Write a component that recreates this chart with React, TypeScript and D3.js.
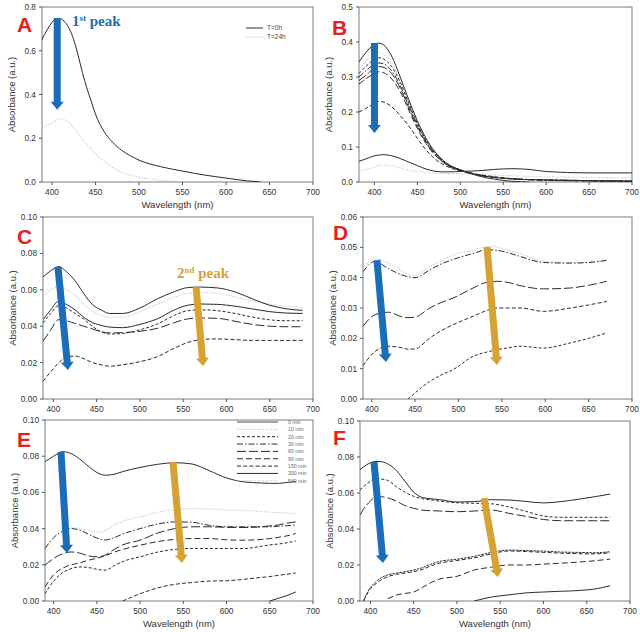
import React from "react";
import * as d3 from "d3";

// ---------- shared ----------
const xTicks = [400, 450, 500, 550, 600, 650, 700];
const legendLabels = ["0 min", "10 min", "20 min", "30 min", "60 min", "90 min", "150 min", "300 min", "540 min"];
const legendStyles = ["solid", "dotted", "short", "dashdot", "long", "medium", "dash", "solid", "dotted"];

// ---------- Panel A ----------
const aWl = [388, 395, 400, 405, 410, 415, 420, 425, 430, 435, 440, 445, 450, 460, 470, 480, 490, 500, 525, 550, 575, 600, 625, 640];
const aT0h = [0.648, 0.7, 0.73, 0.747, 0.746, 0.73, 0.7, 0.65, 0.58, 0.5, 0.43, 0.37, 0.31, 0.23, 0.18, 0.145, 0.12, 0.1, 0.07, 0.05, 0.032, 0.018, 0.005, 0];
const aT24h = [0.245, 0.26, 0.27, 0.282, 0.29, 0.285, 0.27, 0.248, 0.22, 0.195, 0.17, 0.15, 0.13, 0.095, 0.065, 0.045, 0.032, 0.022, 0.008, 0.0, null, null, null, null];

// ---------- Panel B ----------
const bWl = [382, 390, 400, 405, 410, 420, 430, 440, 450, 460, 470, 480, 490, 500, 520, 540, 560, 580, 600, 650, 700];
const b0 = [0.343, 0.37, 0.393, 0.397, 0.393, 0.36, 0.3, 0.235, 0.175, 0.125, 0.088, 0.062, 0.045, 0.035, 0.018, 0.008, 0.002, 0, null, null, null];
const b10 = [0.32, 0.345, 0.365, 0.37, 0.366, 0.34, 0.29, 0.228, 0.17, 0.122, 0.086, 0.06, 0.044, 0.035, 0.02, 0.012, 0.008, 0.006, 0.005, 0.004, 0.003];
const b20 = [0.31, 0.33, 0.35, 0.355, 0.352, 0.33, 0.285, 0.225, 0.168, 0.12, 0.085, 0.06, 0.044, 0.035, 0.021, 0.013, 0.009, 0.007, 0.006, 0.004, 0.003];
const b30 = [0.3, 0.318, 0.336, 0.34, 0.338, 0.318, 0.275, 0.218, 0.163, 0.117, 0.083, 0.059, 0.043, 0.034, 0.021, 0.013, 0.009, 0.007, 0.006, 0.004, 0.003];
const b60 = [0.29, 0.305, 0.325, 0.33, 0.328, 0.31, 0.268, 0.212, 0.158, 0.113, 0.08, 0.057, 0.042, 0.033, 0.021, 0.013, 0.009, 0.007, 0.006, 0.004, 0.002];
const b90 = [0.28, 0.295, 0.31, 0.315, 0.313, 0.295, 0.258, 0.205, 0.153, 0.11, 0.078, 0.056, 0.041, 0.032, 0.02, 0.013, 0.009, 0.006, 0.005, 0.003, 0.002];
const b150 = [0.2, 0.21, 0.225, 0.23, 0.229, 0.215, 0.19, 0.16, 0.125, 0.092, 0.067, 0.05, 0.039, 0.032, 0.022, 0.015, 0.01, 0.007, 0.005, 0.003, 0.002];
const b300 = [0.059, 0.066, 0.075, 0.077, 0.078, 0.075, 0.067, 0.057, 0.047, 0.037, 0.031, 0.029, 0.029, 0.03, 0.032, 0.036, 0.038, 0.036, 0.03, 0.026, 0.026];
const b540 = [0.029, 0.035, 0.043, 0.047, 0.048, 0.046, 0.04, 0.034, 0.03, 0.027, 0.025, 0.024, 0.024, 0.024, 0.022, 0.02, 0.018, 0.016, 0.015, 0.013, 0.012];

// ---------- Panel C ----------
const cWl = [388, 397, 406, 415, 425, 435, 445, 455, 465, 480, 500, 520, 540, 555, 570, 590, 610, 630, 650, 670, 688];
const c1 = [0.067, 0.0705, 0.0728, 0.07, 0.065, 0.058, 0.052, 0.049, 0.047, 0.047, 0.05, 0.055, 0.059, 0.0612, 0.0615, 0.061, 0.0588, 0.055, 0.0515, 0.0495, 0.0487];
const c2 = [0.056, 0.06, 0.062, 0.06, 0.057, 0.052, 0.048, 0.046, 0.045, 0.045, 0.048, 0.052, 0.056, 0.058, 0.0585, 0.058, 0.056, 0.054, 0.052, 0.051, 0.05];
const c3 = [0.0436, 0.049, 0.0537, 0.052, 0.049, 0.045, 0.042, 0.0405, 0.0395, 0.0392, 0.041, 0.044, 0.049, 0.0515, 0.0522, 0.052, 0.051, 0.0495, 0.048, 0.0472, 0.047];
const c4 = [0.0418, 0.047, 0.0513, 0.05, 0.047, 0.044, 0.04, 0.037, 0.0357, 0.036, 0.038, 0.0412, 0.046, 0.0485, 0.049, 0.0485, 0.047, 0.045, 0.0435, 0.043, 0.043];
const c5 = [0.0317, 0.038, 0.0436, 0.043, 0.0415, 0.04, 0.0385, 0.037, 0.0363, 0.0365, 0.0372, 0.0388, 0.042, 0.044, 0.0445, 0.0443, 0.0427, 0.041, 0.04, 0.0397, 0.0397];
const c6 = [0.0097, 0.015, 0.0198, 0.0232, 0.0236, 0.0222, 0.02, 0.0188, 0.018, 0.0188, 0.0205, 0.0232, 0.028, 0.031, 0.0326, 0.033, 0.0326, 0.0322, 0.0322, 0.0322, 0.0322];

// ---------- Panel D ----------
const dWl = [390, 404, 419, 436, 442, 450, 467, 480, 494, 517, 533, 545, 556, 571, 598, 629, 650, 671];
const d1 = [0.0432, 0.0462, 0.0448, 0.042, 0.041, 0.0407, 0.0437, 0.0455, 0.0476, 0.049, 0.0503, 0.05, 0.0492, 0.048, 0.0454, 0.045, 0.0452, 0.046];
const d2 = [0.042, 0.0454, 0.043, 0.0408, 0.0403, 0.04, 0.0426, 0.0445, 0.046, 0.048, 0.0492, 0.049, 0.0483, 0.047, 0.045, 0.0448, 0.045, 0.0457];
const d3v = [0.024, 0.0278, 0.0286, 0.027, 0.0268, 0.027, 0.03, 0.0318, 0.0333, 0.0366, 0.0385, 0.0388, 0.0385, 0.0374, 0.0363, 0.0366, 0.0375, 0.0388];
const d4 = [0.011, 0.0157, 0.0174, 0.0168, 0.0164, 0.0165, 0.0201, 0.0225, 0.0245, 0.0273, 0.0292, 0.03, 0.03, 0.03, 0.0289, 0.03, 0.031, 0.0322];
const d5 = [null, null, null, null, 0, 0.002, 0.0058, 0.0079, 0.0097, 0.0141, 0.0155, 0.0163, 0.0168, 0.0174, 0.0168, 0.0185, 0.02, 0.0218];

// ---------- Panel E ----------
const eWl = [390, 400, 410, 420, 430, 440, 450, 460, 470, 480, 500, 520, 540, 560, 580, 600, 620, 640, 650, 660, 670, 680];
const e0 = [0.077, 0.08, 0.0825, 0.0815, 0.0785, 0.0745, 0.071, 0.0695, 0.07, 0.0715, 0.0738, 0.0755, 0.0764, 0.0757, 0.072, 0.068, 0.0658, 0.0652, 0.065, 0.065, 0.0655, 0.066];
const e10 = [null, null, null, 0.041, 0.04, 0.039, 0.038, 0.039, 0.042, 0.044, 0.0465, 0.049, 0.0505, 0.051, 0.0508, 0.0503, 0.05, 0.0495, 0.049, 0.0488, 0.0485, 0.0483];
const e20 = [0.029, 0.035, 0.0385, 0.04, 0.0392, 0.037, 0.0348, 0.0337, 0.035, 0.037, 0.04, 0.0425, 0.0437, 0.0435, 0.0418, 0.041, 0.041, 0.041, 0.041, 0.0413, 0.0416, 0.042];
const e30 = [0.0197, 0.0235, 0.026, 0.0271, 0.0265, 0.025, 0.0244, 0.0255, 0.0285, 0.031, 0.0336, 0.0375, 0.04, 0.041, 0.041, 0.0407, 0.0406, 0.041, 0.0415, 0.042, 0.043, 0.0437];
const e60 = [0.0077, 0.0145, 0.018, 0.02, 0.021, 0.0225, 0.0236, 0.025, 0.027, 0.0285, 0.0308, 0.0328, 0.034, 0.0345, 0.0345, 0.0338, 0.0336, 0.034, 0.0345, 0.0352, 0.036, 0.0373];
const e90 = [0.004, 0.011, 0.0155, 0.0178, 0.0188, 0.0185, 0.0175, 0.017, 0.0195, 0.0218, 0.0244, 0.027, 0.0285, 0.029, 0.029, 0.029, 0.029, 0.0302, 0.031, 0.0315, 0.0322, 0.0332];
const e150 = [null, null, null, null, null, null, null, null, null, 0, 0.004, 0.0072, 0.0092, 0.0102, 0.011, 0.0112, 0.012, 0.013, 0.0135, 0.0142, 0.0148, 0.0155];
const e300 = [null, null, null, null, null, null, null, null, null, null, null, null, null, null, null, null, null, null, 0, 0.0015, 0.003, 0.005];

// ---------- Panel F ----------
const fWl = [388, 392, 400, 405, 410, 420, 430, 440, 450, 460, 470, 480, 500, 520, 540, 560, 580, 600, 620, 640, 660, 677];
const f1 = [0.073, 0.0745, 0.0768, 0.0775, 0.0775, 0.0762, 0.0725, 0.0665, 0.0605, 0.0575, 0.0568, 0.0563, 0.055, 0.0552, 0.0563, 0.0561, 0.0553, 0.0545, 0.0552, 0.0565, 0.058, 0.0594];
const f2 = [0.0617, 0.0635, 0.0665, 0.0677, 0.0678, 0.067, 0.0635, 0.0605, 0.0582, 0.0568, 0.0562, 0.0555, 0.0546, 0.0543, 0.054, 0.0522, 0.0498, 0.0472, 0.0465, 0.0465, 0.0465, 0.0465];
const f3 = [0.0478, 0.051, 0.0555, 0.0575, 0.058, 0.0573, 0.0555, 0.053, 0.0515, 0.0505, 0.0502, 0.05, 0.0496, 0.05, 0.0505, 0.0487, 0.047, 0.0453, 0.0446, 0.0446, 0.0446, 0.0446];
const f4 = [null, 0, 0.0075, 0.01, 0.0122, 0.0145, 0.0155, 0.0163, 0.0172, 0.0185, 0.0205, 0.022, 0.0232, 0.0248, 0.027, 0.0283, 0.028, 0.0277, 0.0272, 0.027, 0.0268, 0.0274];
const f5 = [null, 0, 0.0068, 0.009, 0.011, 0.0135, 0.0148, 0.0155, 0.0163, 0.0175, 0.0195, 0.021, 0.0225, 0.024, 0.0262, 0.0278, 0.0275, 0.027, 0.0266, 0.0263, 0.0262, 0.0268];
const f6 = [null, null, null, null, null, 0.0012, 0.0033, 0.0042, 0.005, 0.0075, 0.0102, 0.0122, 0.0137, 0.0172, 0.0188, 0.02, 0.02, 0.0205, 0.021, 0.0216, 0.0224, 0.0233];
const f7 = [null, null, null, null, null, null, null, null, null, null, null, null, null, 0, 0.0022, 0.0034, 0.0045, 0.005, 0.0054, 0.0058, 0.0067, 0.0085];

// ---------- arrows (data coordinates: wl1, abs1, wl2, abs2) ----------
const aBlue = [406, 0.75, 406, 0.33];
const bBlue = [400, 0.397, 400, 0.14];
const cBlue = [405.3, 0.0725, 416.9, 0.0159];
const cGold = [564.9, 0.0615, 573, 0.0181];
const dBlue = [406.1, 0.0458, 416.5, 0.0122];
const dGold = [532.9, 0.0501, 544.4, 0.0112];
const eBlue = [408.5, 0.0823, 415.4, 0.0265];
const eGold = [538, 0.0768, 548.4, 0.021];
const fBlue = [404.2, 0.0772, 414.6, 0.0211];
const fGold = [531.3, 0.0572, 547.5, 0.0133];

const BLUE = "#1b6db7";
const GOLD = "#d6a232";
const RED = "#e2211c";
const INK = "#2b2b2b";

type Sty = { dash?: string; color: string; width: number };
const STY: Record<string, Sty> = {
  solid: { color: INK, width: 1 },
  dotted: { dash: "1,1.6", color: "#bdbdbd", width: 1.1 },
  short: { dash: "3,2", color: INK, width: 1 },
  dashdot: { dash: "6,2,1.5,2", color: INK, width: 1 },
  long: { dash: "9,3", color: INK, width: 1 },
  medium: { dash: "6,3", color: INK, width: 1 },
  dash: { dash: "4,2.2", color: INK, width: 1 },
  dense: { dash: "2.5,1", color: INK, width: 1 },
};

type Series = { v: (number | null)[]; s: string };
type PanelDef = {
  id: string;
  left: number; top: number; right: number; bottom: number;
  xDomain: [number, number];
  yMax: number; yStep: number; yFmt: string;
  wl: number[];
  series: Series[];
  arrows: { a: number[]; c: string }[];
  letter: { t: string; dx: number; dy: number };
  xLabel: boolean;
};

const panels: PanelDef[] = [
  {
    id: "A", left: 42, top: 7, right: 313, bottom: 182, xDomain: [388.5, 700], yMax: 0.8, yStep: 0.2, yFmt: ".1f",
    wl: aWl, series: [{ v: aT24h, s: "dotted" }, { v: aT0h, s: "solid" }],
    arrows: [{ a: aBlue, c: BLUE }], letter: { t: "A", dx: -25, dy: 25 }, xLabel: true,
  },
  {
    id: "B", left: 359, top: 7, right: 632, bottom: 182, xDomain: [382, 700], yMax: 0.5, yStep: 0.1, yFmt: ".1f",
    wl: bWl,
    series: [
      { v: b540, s: "dotted" }, { v: b10, s: "dotted" }, { v: b0, s: "solid" }, { v: b20, s: "short" },
      { v: b30, s: "dashdot" }, { v: b60, s: "long" }, { v: b90, s: "medium" }, { v: b150, s: "dash" }, { v: b300, s: "solid" },
    ],
    arrows: [{ a: bBlue, c: BLUE }], letter: { t: "B", dx: -27, dy: 28 }, xLabel: true,
  },
  {
    id: "C", left: 43, top: 217, right: 313, bottom: 399, xDomain: [388, 700], yMax: 0.1, yStep: 0.02, yFmt: ".2f",
    wl: cWl,
    series: [
      { v: c2, s: "dotted" }, { v: c1, s: "solid" }, { v: c3, s: "solid" }, { v: c4, s: "short" },
      { v: c5, s: "long" }, { v: c6, s: "dash" },
    ],
    arrows: [{ a: cBlue, c: BLUE }, { a: cGold, c: GOLD }], letter: { t: "C", dx: -26, dy: 27 }, xLabel: false,
  },
  {
    id: "D", left: 363, top: 217, right: 632, bottom: 399, xDomain: [390, 700], yMax: 0.06, yStep: 0.01, yFmt: ".2f",
    wl: dWl,
    series: [
      { v: d1, s: "dotted" }, { v: d2, s: "dashdot" }, { v: d3v, s: "long" }, { v: d4, s: "dash" }, { v: d5, s: "short" },
    ],
    arrows: [{ a: dBlue, c: BLUE }, { a: dGold, c: GOLD }], letter: { t: "D", dx: -30, dy: 23 }, xLabel: false,
  },
  {
    id: "E", left: 45, top: 420, right: 313, bottom: 601, xDomain: [390, 700], yMax: 0.1, yStep: 0.02, yFmt: ".2f",
    wl: eWl,
    series: [
      { v: e10, s: "dotted" }, { v: e0, s: "solid" }, { v: e20, s: "dashdot" }, { v: e30, s: "long" },
      { v: e60, s: "medium" }, { v: e90, s: "short" }, { v: e150, s: "dash" }, { v: e300, s: "solid" },
    ],
    arrows: [{ a: eBlue, c: BLUE }, { a: eGold, c: GOLD }], letter: { t: "E", dx: -28, dy: 27 }, xLabel: true,
  },
  {
    id: "F", left: 360, top: 421, right: 630, bottom: 601, xDomain: [388, 700], yMax: 0.1, yStep: 0.02, yFmt: ".2f",
    wl: fWl,
    series: [
      { v: f1, s: "solid" }, { v: f2, s: "short" }, { v: f3, s: "long" }, { v: f4, s: "dense" },
      { v: f5, s: "dash" }, { v: f6, s: "medium" }, { v: f7, s: "solid" },
    ],
    arrows: [{ a: fBlue, c: BLUE }, { a: fGold, c: GOLD }], letter: { t: "F", dx: -27, dy: 24 }, xLabel: true,
  },
];

function arrowPoints(x1: number, y1: number, x2: number, y2: number, w: number, hw: number, hl: number) {
  const dx = x2 - x1, dy = y2 - y1;
  const L = Math.hypot(dx, dy);
  const ux = dx / L, uy = dy / L;
  const nx = -uy, ny = ux;
  const bx = x2 - ux * hl, by = y2 - uy * hl;
  const pts = [
    [x1 + (nx * w) / 2, y1 + (ny * w) / 2],
    [bx + (nx * w) / 2, by + (ny * w) / 2],
    [bx + (nx * hw) / 2, by + (ny * hw) / 2],
    [x2, y2],
    [bx - (nx * hw) / 2, by - (ny * hw) / 2],
    [bx - (nx * w) / 2, by - (ny * w) / 2],
    [x1 - (nx * w) / 2, y1 - (ny * w) / 2],
  ];
  return pts.map((p) => p.join(",")).join(" ");
}

const FONT = "'Liberation Sans', Arial, sans-serif";

function Panel({ p }: { p: PanelDef }) {
  const x = d3.scaleLinear().domain(p.xDomain).range([p.left, p.right]);
  const y = d3.scaleLinear().domain([0, p.yMax]).range([p.bottom, p.top]);
  const yTicks = d3.range(0, p.yMax + p.yStep / 2, p.yStep);
  const fmt = d3.format(p.yFmt);
  const clipId = "clip" + p.id;
  const mkLine = (vals: (number | null)[]) =>
    d3
      .line<number | null>()
      .defined((d) => d != null)
      .x((_, i) => x(p.wl[i]))
      .y((d) => y(d as number))
      .curve(d3.curveMonotoneX)(vals) || "";
  const cx = (p.left + p.right) / 2;
  const cy = (p.top + p.bottom) / 2;
  return (
    <g>
      <defs>
        <clipPath id={clipId}>
          <rect x={p.left} y={p.top - 1} width={p.right - p.left} height={p.bottom - p.top + 1} />
        </clipPath>
      </defs>
      <rect x={p.left} y={p.top} width={p.right - p.left} height={p.bottom - p.top} fill="#fff" stroke="#7a7a7a" strokeWidth={1} />
      {xTicks.map((t) => (
        <g key={"x" + t}>
          <line x1={x(t)} x2={x(t)} y1={p.bottom} y2={p.bottom + 3} stroke="#555" strokeWidth={1} />
          <text x={x(t)} y={p.bottom + 13} textAnchor="middle" fontSize={8.3} fill="#333" fontFamily={FONT}>
            {t}
          </text>
        </g>
      ))}
      {yTicks.map((t) => (
        <g key={"y" + t}>
          <line x1={p.left - 3} x2={p.left} y1={y(t)} y2={y(t)} stroke="#555" strokeWidth={1} />
          <text x={p.left - 6} y={y(t) + 3} textAnchor="end" fontSize={8.3} fill="#333" fontFamily={FONT}>
            {fmt(t)}
          </text>
        </g>
      ))}
      <text
        transform={`translate(${p.left - 27},${cy}) rotate(-90)`}
        textAnchor="middle"
        fontSize={9.5}
        fill="#333"
        fontFamily={FONT}
      >
        Absorbance (a.u.)
      </text>
      {p.xLabel && (
        <text x={cx} y={p.bottom + 26} textAnchor="middle" fontSize={9.5} fill="#333" fontFamily={FONT}>
          Wavelength (nm)
        </text>
      )}
      <g clipPath={`url(#${clipId})`}>
        {p.series.map((s, i) => {
          const st = STY[s.s];
          return (
            <path
              key={i}
              d={mkLine(s.v)}
              fill="none"
              stroke={st.color}
              strokeWidth={st.width}
              strokeDasharray={st.dash}
            />
          );
        })}
      </g>
      {p.arrows.map((ar, i) => (
        <polygon
          key={"ar" + i}
          points={arrowPoints(x(ar.a[0]), y(ar.a[1]), x(ar.a[2]), y(ar.a[3]), 7, 13, 8)}
          fill={ar.c}
        />
      ))}
      <text
        x={p.left + p.letter.dx}
        y={p.top + p.letter.dy}
        fontSize={21}
        fontWeight="bold"
        fill={RED}
        fontFamily={FONT}
      >
        {p.letter.t}
      </text>
    </g>
  );
}

export default function App() {
  const pA = panels[0];
  const pC = panels[2];
  const pE = panels[4];
  const legendRowY = (i: number) => pE.top + 2 + i * 7.35;
  return (
    <svg
      width={640}
      height={632}
      viewBox="0 0 640 632"
      style={{ position: "absolute", left: 0, top: 0, background: "#fff" }}
    >
      <rect x={0} y={0} width={640} height={632} fill="#fff" />
      {panels.map((p) => (
        <Panel key={p.id} p={p} />
      ))}
      <g fontFamily={FONT} fontSize={6.5} fill="#444">
        <line x1={pA.left + 204} x2={pA.left + 221} y1={pA.top + 21} y2={pA.top + 21} stroke={INK} strokeWidth={1} />
        <text x={pA.left + 225} y={pA.top + 23}>T=0h</text>
        <line x1={pA.left + 204} x2={pA.left + 221} y1={pA.top + 30} y2={pA.top + 30} stroke="#bdbdbd" strokeWidth={1} strokeDasharray="1,1.6" />
        <text x={pA.left + 225} y={pA.top + 32}>T=24h</text>
      </g>
      <g fontFamily={FONT} fontSize={5.2} fill="#666">
        {legendLabels.map((lab, i) => {
          const st = STY[legendStyles[i]];
          return (
            <g key={lab}>
              <line
                x1={pE.left + 192}
                x2={pE.left + 233}
                y1={legendRowY(i)}
                y2={legendRowY(i)}
                stroke={i === 0 ? "#888" : st.color}
                strokeWidth={i === 0 ? 1.4 : st.width}
                strokeDasharray={st.dash}
              />
              <text x={pE.left + 243} y={legendRowY(i) + 2}>{lab}</text>
            </g>
          );
        })}
      </g>
      <text x={pA.left + 30} y={pA.top + 19} fill={BLUE} fontWeight="bold" fontSize={15} fontFamily="'Liberation Serif', 'DejaVu Serif', serif">
        1<tspan dy={-5} fontSize={9}>st</tspan>
        <tspan dy={5}> peak</tspan>
      </text>
      <text x={pC.left + 134} y={pC.top + 61} fill={GOLD} fontWeight="bold" fontSize={15} fontFamily="'Liberation Serif', 'DejaVu Serif', serif">
        2<tspan dy={-5} fontSize={9}>nd</tspan>
        <tspan dy={5}> peak</tspan>
      </text>
    </svg>
  );
}
